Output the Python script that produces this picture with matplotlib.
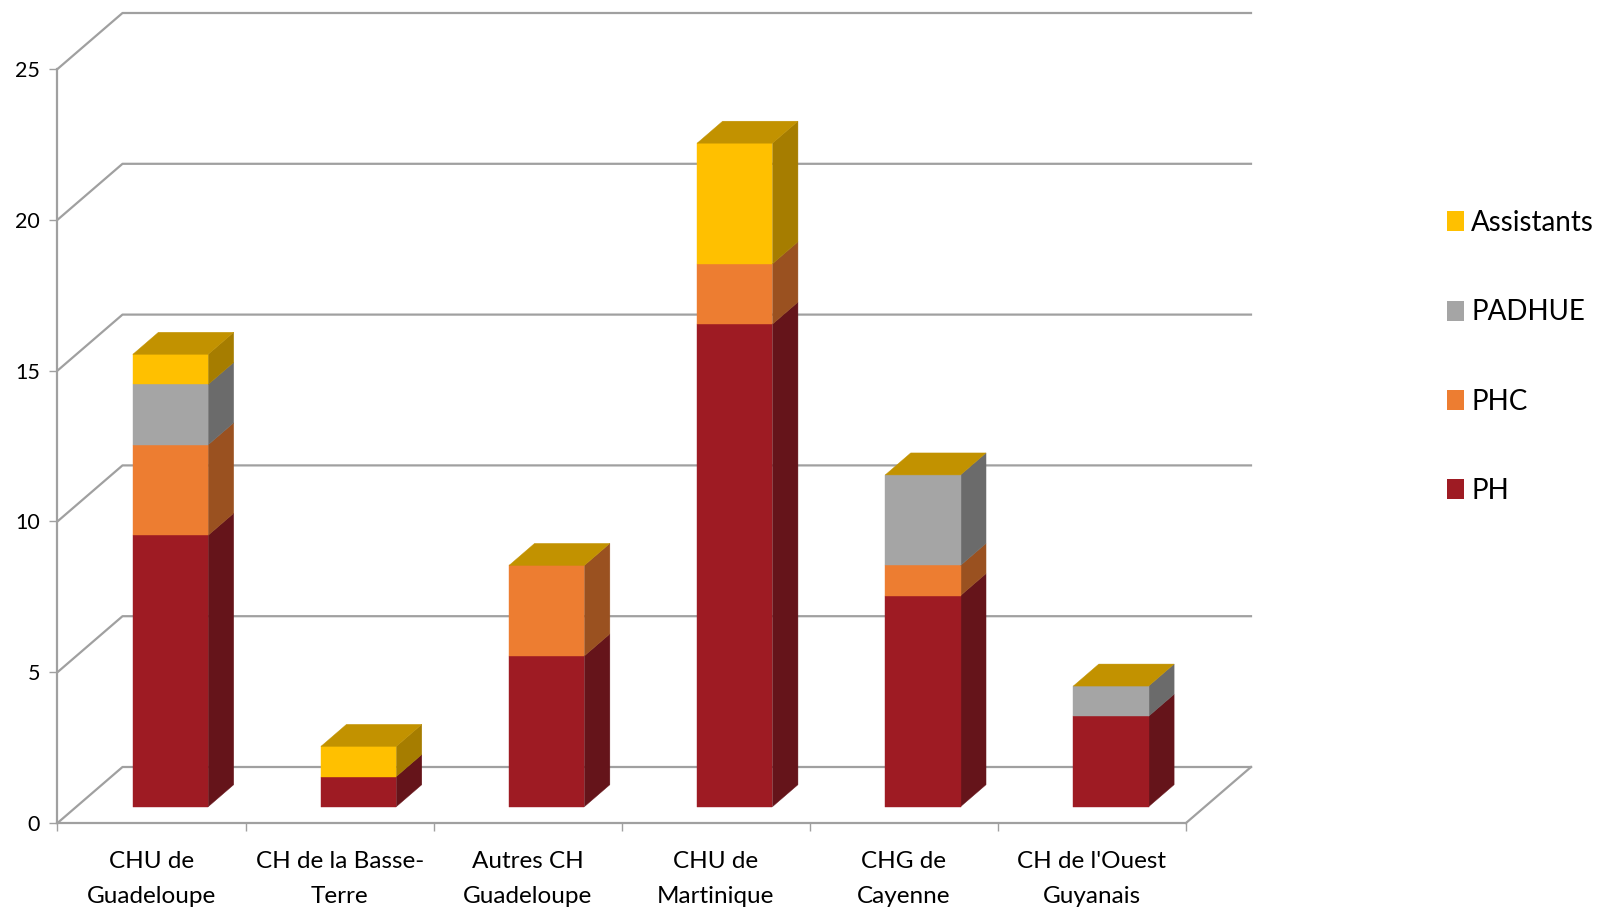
import numpy as np
import matplotlib
matplotlib.use('Agg')
import matplotlib.pyplot as plt
from matplotlib.patches import Polygon, Patch

# data
hospitals = ["CHU de\nGuadeloupe", "CH de la Basse-\nTerre", "Autres CH\nGuadeloupe",
             "CHU de\nMartinique", "CHG de\nCayenne", "CH de l'Ouest\nGuyanais"]
series_names = ["PH", "PHC", "PADHUE", "Assistants"]
ph = [9, 1, 5, 16, 7, 3]
phc = [3, 0, 3, 2, 1, 0]
padhue = [2, 0, 0, 0, 3, 1]
assistants = [1, 1, 0, 4, 0, 0]
y_ticks = [0, 5, 10, 15, 20, 25]

front_colors = ["#9E1B23", "#ED7D31", "#A5A5A5", "#FFC000"]
side_colors = ["#65141A", "#9A5120", "#6B6B6B", "#A67D00"]
top_color = "#C29200"
grid_color = "#A0A0A0"

W, H = 1597, 910
left, right, top, bottom = 57.5, 1186, 69, 823
x_step = (right - left) / 6
y_step = (bottom - top) / 25

# depth of the fake 3D box, in data units
wall_dx, wall_dy = 65 / x_step, 56 / y_step
bar_dx, bar_dy = 25.5 / x_step, 22 / y_step
# where the bar foot sits on the floor
foot_dx, foot_dy = 19 / x_step, 16.3 / y_step
bar_w = 75.3 / x_step

plt.rcParams['font.family'] = ['Lato', 'DejaVu Sans']

fig = plt.figure(figsize=(W / 100, H / 100), dpi=100)
ax = fig.add_axes([left / W, 1 - bottom / H, (right - left) / W, (bottom - top) / H])
ax.set_xlim(0, 6)
ax.set_ylim(0, 25)

# walls
for v in y_ticks:
    ax.plot([0, wall_dx, 6 + wall_dx], [v, v + wall_dy, v + wall_dy],
            color=grid_color, lw=1.6, clip_on=False, zorder=1)
ax.plot([6, 6 + wall_dx], [0, wall_dy], color=grid_color, lw=1.6, clip_on=False, zorder=1)

# stacked bars
stack = np.array([ph, phc, padhue, assistants], dtype=float)
base = np.zeros(len(hospitals))
for s, name in enumerate(series_names):
    for i in range(len(hospitals)):
        x0 = i + 0.5 - bar_w / 2 + foot_dx
        x1 = x0 + bar_w
        y0 = base[i] + foot_dy
        y1 = y0 + stack[s][i]
        if stack[s][i] > 0:
            ax.add_patch(Polygon([(x1, y0), (x1 + bar_dx, y0 + bar_dy),
                                  (x1 + bar_dx, y1 + bar_dy), (x1, y1)],
                                 fc=side_colors[s], ec=side_colors[s], lw=0.3,
                                 clip_on=False, zorder=3))
            ax.add_patch(Polygon([(x0, y0), (x1, y0), (x1, y1), (x0, y1)],
                                 fc=front_colors[s], ec=front_colors[s], lw=0.3,
                                 clip_on=False, zorder=3))
        if s == len(series_names) - 1:
            # the cap always takes the colour of the last series
            ax.add_patch(Polygon([(x0, y1), (x1, y1), (x1 + bar_dx, y1 + bar_dy),
                                  (x0 + bar_dx, y1 + bar_dy)],
                                 fc=top_color, ec=top_color, lw=0.3, clip_on=False, zorder=3))
    base += stack[s]

# axes
for side in ['top', 'right']:
    ax.spines[side].set_visible(False)
for side in ['left', 'bottom']:
    ax.spines[side].set_color(grid_color)
    ax.spines[side].set_linewidth(1.6)
    ax.spines[side].set_zorder(2)
ax.patch.set_alpha(0)

ax.set_yticks(y_ticks)
ax.set_xticks(np.arange(0, 7))
ax.set_xticklabels([])
ax.set_xticks(np.arange(0.5, 6), minor=True)
ax.set_xticklabels(hospitals, minor=True, fontsize=17.5, linespacing=1.8)
ax.tick_params(axis='x', which='major', length=5.5, width=1, color=grid_color)
ax.tick_params(axis='x', which='minor', length=0, pad=20.5)
ax.tick_params(axis='y', length=5.5, width=1, color=grid_color, labelsize=15.5, pad=7)

# legend, top entry first
handles = [Patch(fc=c, ec='none', label=n) for c, n in zip(front_colors, series_names)][::-1]
ax.legend(handles=handles, loc='upper left', bbox_to_anchor=(1447 / W, 1 - 210 / H),
          bbox_transform=fig.transFigure, frameon=False, fontsize=20,
          handlelength=0.62, handleheight=0.73, handletextpad=0.25,
          labelspacing=2.28, borderpad=0, borderaxespad=0)

fig.savefig('out.png', dpi=100)
